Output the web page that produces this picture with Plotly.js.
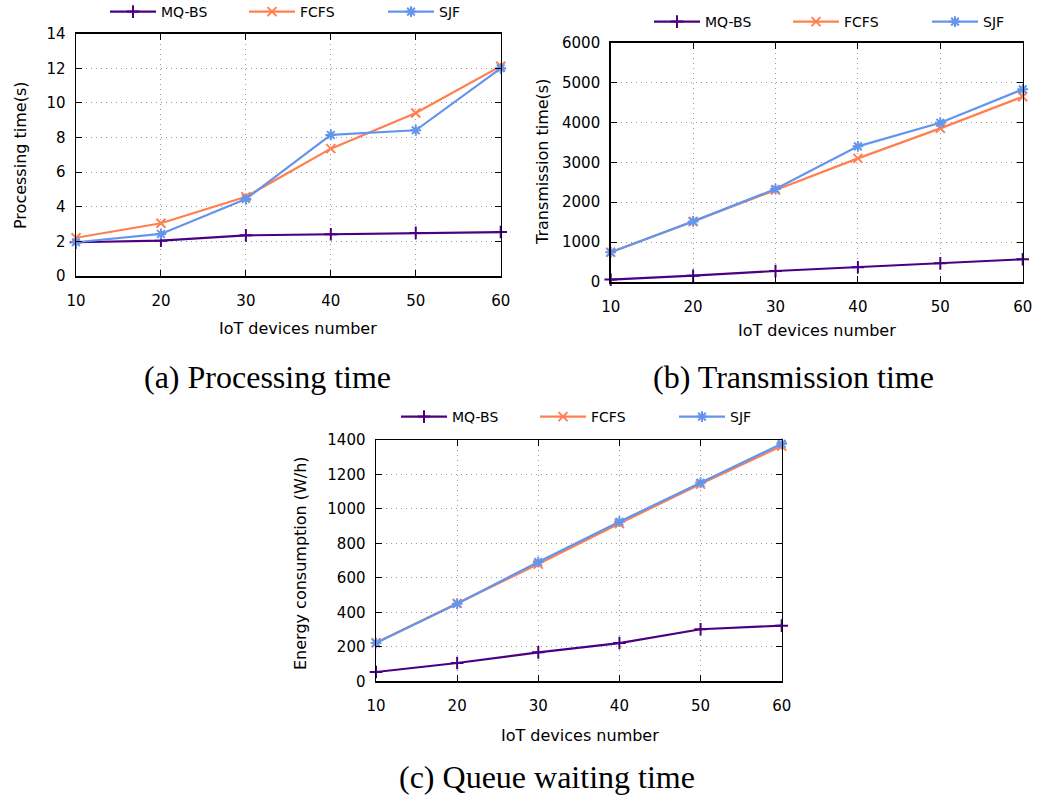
<!DOCTYPE html>
<html>
<head>
<meta charset="utf-8">
<script src="https://cdn.plot.ly/plotly-3.0.1.min.js"></script>
<style>html,body{margin:0;padding:0;background:#fff;}#chart{width:1047px;height:803px;}</style>
</head>
<body>
<div id="chart"></div>
<script>
// ---- data ----
const devices = [10, 20, 30, 40, 50, 60];
const seriesNames = ["MQ-BS", "FCFS", "SJF"];

const procMQBS = [1.95, 2.04, 2.35, 2.41, 2.49, 2.54];
const procFCFS = [2.21, 3.05, 4.58, 7.36, 9.42, 12.12];
const procSJF  = [1.95, 2.43, 4.45, 8.15, 8.42, 12.0];

const transMQBS = [60, 158, 276, 368, 468, 570];
const transFCFS = [745, 1515, 2306, 3100, 3852, 4645];
const transSJF  = [745, 1520, 2331, 3401, 3993, 4830];

const energyMQBS = [54, 106, 168, 222, 302, 323];
const energyFCFS = [224, 452, 680, 916, 1144, 1365];
const energySJF  = [222, 450, 692, 926, 1152, 1378];

const yTitles = ["Processing time(s)", "Transmission time(s)", "Energy consumption (W/h)"];
const xTitle = "IoT devices number";
const captions = ["(a) Processing time", "(b) Transmission time", "(c) Queue waiting time"];

// ---- styles ----
const colors = ["#4b0082", "#ff7f50", "#6495ed"];
const symbols = ["cross-thin-open", "x-thin-open", "asterisk-open"];
const msizes = [9, 9, 9];
const W = 1047, H = 803;
const sans = "DejaVu Sans, Verdana, sans-serif";
const serif = "Liberation Serif, Times New Roman, serif";

const panels = [
  {vals: [procMQBS, procFCFS, procSJF], xa: "x", ya: "y", legend: "legend",
   px: [76, 500.7], py: [33.7, 276], yr: [0, 14], ydt: 2},
  {vals: [transMQBS, transFCFS, transSJF], xa: "x2", ya: "y2", legend: "legend2",
   px: [610.7, 1022.7], py: [42.7, 282], yr: [0, 6000], ydt: 1000},
  {vals: [energyMQBS, energyFCFS, energySJF], xa: "x3", ya: "y3", legend: "legend3",
   px: [376, 781.7], py: [440, 681.3], yr: [0, 1400], ydt: 200}
];

const traces = [];
panels.forEach((p, pi) => {
  p.vals.forEach((v, si) => {
    traces.push({
      type: "scatter", mode: "lines+markers",
      x: devices, y: v, name: seriesNames[si],
      xaxis: p.xa, yaxis: p.ya, legend: p.legend,
      line: {color: colors[si], width: 2.2},
      marker: {symbol: symbols[si], size: msizes[si], color: colors[si], line: {color: colors[si], width: 2}},
      cliponaxis: false
    });
  });
});

function axBase() {
  return {
    showline: true, linecolor: "#000", linewidth: 1.5, mirror: "ticks",
    ticks: "inside", ticklen: 6, tickwidth: 1, tickcolor: "#000",
    showgrid: true, gridcolor: "#999", griddash: "1px,4px", gridwidth: 1,
    zeroline: false, tickfont: {family: sans, size: 15, color: "#000"},
    fixedrange: true
  };
}

const layout = {
  width: W, height: H, margin: {l: 0, r: 0, t: 0, b: 0, autoexpand: false},
  paper_bgcolor: "#fff", plot_bgcolor: "#fff",
  showlegend: true,
  annotations: []
};

const legendPos = [[105, 12], [649, 22], [396, 417]];
const xTitlePos = [[298, 328], [817, 330], [580, 735]];
const yTitlePos = [[20, 155], [542, 162], [300, 563]];
const capPos = [[267, 377], [793, 377], [547, 777]];

panels.forEach((p, pi) => {
  const sfx = pi === 0 ? "" : String(pi + 1);
  const xa = Object.assign(axBase(), {
    domain: [p.px[0] / W, p.px[1] / W], range: [10, 60], tickvals: devices,
    anchor: "y" + sfx, ticklabelstandoff: 10, automargin: false
  });
  const ya = Object.assign(axBase(), {
    domain: [1 - p.py[1] / H, 1 - p.py[0] / H], range: p.yr, dtick: p.ydt, tick0: 0,
    anchor: "x" + sfx, ticklabelstandoff: 6, automargin: false
  });
  layout["xaxis" + sfx] = xa;
  layout["yaxis" + sfx] = ya;
  layout[p.legend] = {
    orientation: "h", x: legendPos[pi][0] / W, y: 1 - legendPos[pi][1] / H,
    xanchor: "left", yanchor: "middle", bgcolor: "rgba(0,0,0,0)",
    font: {family: sans, size: 14, color: "#000"},
    entrywidth: 78, entrywidthmode: "pixels", itemwidth: 46, tracegroupgap: 0
  };
  layout.annotations.push({
    text: xTitle, xref: "paper", yref: "paper", x: xTitlePos[pi][0] / W, y: 1 - xTitlePos[pi][1] / H,
    xanchor: "center", yanchor: "middle", showarrow: false, font: {family: sans, size: 16, color: "#000"}
  });
  layout.annotations.push({
    text: yTitles[pi], xref: "paper", yref: "paper", x: yTitlePos[pi][0] / W, y: 1 - yTitlePos[pi][1] / H,
    xanchor: "center", yanchor: "middle", textangle: -90, showarrow: false, font: {family: sans, size: 16, color: "#000"}
  });
  layout.annotations.push({
    text: captions[pi], xref: "paper", yref: "paper", x: capPos[pi][0] / W, y: 1 - capPos[pi][1] / H,
    xanchor: "center", yanchor: "middle", showarrow: false, font: {family: serif, size: 32, color: "#000"}
  });
});

Plotly.newPlot("chart", traces, layout, {displayModeBar: false, staticPlot: true});
</script>
</body>
</html>
